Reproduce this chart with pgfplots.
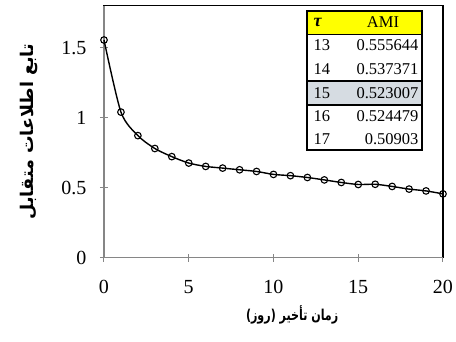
\documentclass[border=0pt]{standalone}
\usepackage{fontspec}
\setmainfont{Liberation Serif}
\newfontfamily\fa[Script=Arabic]{DejaVu Sans}
\TeXXeTstate=1
\usepackage{pgfplots}
\pgfplotsset{compat=1.18}
\definecolor{axgray}{RGB}{134,134,134}
\definecolor{hdr}{RGB}{255,255,0}
\definecolor{hl}{RGB}{214,220,226}
\begin{document}
\begin{tikzpicture}
\useasboundingbox (0,0) rectangle (456pt,341pt);
\begin{axis}[
  at={(104pt,83.3pt)}, anchor=south west,
  scale only axis, width=339pt, height=252pt,
  xmin=0, xmax=20, ymin=0, ymax=1.8,
  xtick={0,5,10,15,20}, ytick={0,0.5,1,1.5},
  xtick pos=left, ytick pos=left,
  tick align=center, major tick length=8pt,
  tick style={axgray, line width=1pt},
  axis line style={black, line width=1.2pt},
  /pgf/number format/assume math mode=true,
  ticklabel style={font=\fontsize{20}{24}\selectfont},
  yticklabel style={xshift=-10pt},
  xticklabel style={yshift=-15pt},
  xlabel={\fa\bfseries\beginR زمان تأخیر (روز)\endR},
  ylabel={\fa\bfseries\beginR تابع اطلاعات متقابل\endR},
  xlabel style={font=\fontsize{15}{18}\selectfont, xscale=0.74, at={(axis description cs:0.555,-0.226)}, anchor=center},
  ylabel style={font=\fontsize{17.5}{20}\selectfont, at={(axis description cs:-0.222,0.5)}, anchor=center},
  clip=false,
]
\draw[axgray, line width=1.3pt] (rel axis cs:0,0) -- (rel axis cs:0,1);
\draw[axgray, line width=1.3pt] (rel axis cs:0,0) -- (rel axis cs:1,0);
\addplot[black, line width=1.4pt, smooth, tension=0.45,
  mark=o, mark size=3.3pt, mark options={fill=white, line width=1.1pt}]
coordinates {
(0,1.555) (1,1.040) (2,0.872) (3,0.780) (4,0.722) (5,0.676)
(6,0.652) (7,0.640) (8,0.628) (9,0.616) (10,0.595) (11,0.586)
(12,0.573) (13,0.555644) (14,0.537371) (15,0.523007) (16,0.524479)
(17,0.50903) (18,0.490) (19,0.477) (20,0.456)
};
\end{axis}
% table overlay (pixel coordinates, y flipped)
\begin{scope}[font=\fontsize{16.5}{19}\selectfont]
\fill[white] (307pt,191pt) rectangle (422pt,330pt);
\fill[hdr] (307pt,307pt) rectangle (422pt,330pt);
\fill[hl] (307pt,236pt) rectangle (422pt,260pt);
\draw[black, line width=0.8pt] (307pt,307pt) -- (422pt,307pt);
\draw[black, line width=1.2pt] (307pt,191pt) rectangle (422pt,330pt);
\draw[black, line width=2pt] (307pt,236pt) rectangle (422pt,260pt);
\node[anchor=west, font=\fontsize{18}{20}\selectfont\bfseries\itshape] at (310pt,318.5pt) {τ};
\node at (383pt,318.5pt) {AMI};
\foreach \yy/\a/\b in {295.5/13/0.555644, 272/14/0.537371, 248/15/0.523007, 224.5/16/0.524479, 202/17/0.50903}{
  \node[anchor=west] at (310pt,\yy pt) {\a};
  \node[anchor=east] at (422pt,\yy pt) {\b};
}
\end{scope}
\end{tikzpicture}
\end{document}
